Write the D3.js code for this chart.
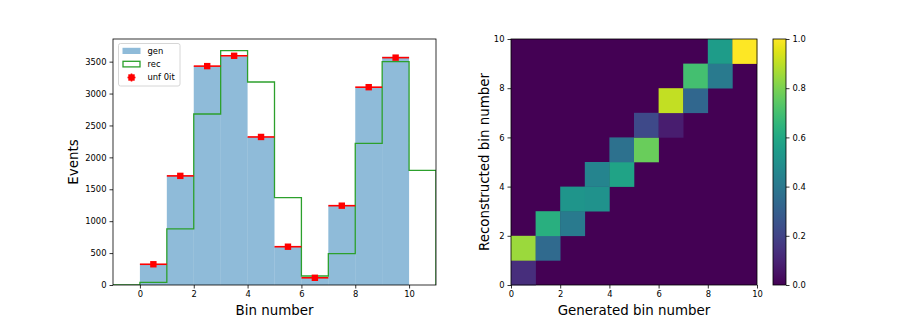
<!DOCTYPE html>
<html><head><meta charset="utf-8">
<script src="https://cdn.jsdelivr.net/npm/d3@7"></script>
<style>
body{margin:0;background:#fff;}
svg text{font-family:"DejaVu Sans",sans-serif;fill:#000;}
</style></head>
<body><svg id="c" width="913" height="326"></svg>
<script>
// ---- data ----
const binEdges = [0,1,2,3,4,5,6,7,8,9,10];
const genValues = [330, 1713, 3432, 3582, 2319, 601, 115, 1243, 3095, 3575];
const unfValues = [325, 1710, 3430, 3592, 2320, 600, 113, 1243, 3100, 3563];
const recEdges = [-1,0,1,2,3,4,5,6,7,8,9,10,11];
const recValues = [0, 42, 878, 2680, 3672, 3181, 1369, 141, 491, 2220, 3500, 1797];
const xTicksLeft = [0,2,4,6,8,10];
const yTicksLeft = [0,500,1000,1500,2000,2500,3000,3500];
const legendLabels = ["gen","rec","unf 0it"];
// response matrix cells: [generated bin, reconstructed bin, value]
const matrixCells = [
 [0,0,0.13],[0,1,0.85],
 [1,1,0.34],[1,2,0.63],
 [2,2,0.41],[2,3,0.52],
 [3,3,0.51],[3,4,0.45],
 [4,4,0.58],[4,5,0.37],
 [5,5,0.77],[5,6,0.22],
 [6,6,0.08],[6,7,0.91],
 [7,7,0.33],[7,8,0.70],
 [8,8,0.41],[8,9,0.55],
 [9,9,1.00]
];
const hmTicks = [0,2,4,6,8,10];
const cbTicks = [0,0.2,0.4,0.6,0.8,1.0];

const svg = d3.select("#c");
const tickFont = 8.4, labelFont = 13.4;

function styleAxis(g){
  g.selectAll(".domain").remove();
  g.selectAll(".tick line").attr("stroke","#000").attr("stroke-width",0.8);
  g.selectAll(".tick text").attr("font-size",tickFont).attr("font-family","DejaVu Sans");
}

// ---------- LEFT CHART ----------
const L = {x0:113, x1:436, y0:39, y1:285};
const x = d3.scaleLinear().domain([-1,11]).range([L.x0,L.x1]);
const y = d3.scaleLinear().domain([0,3855]).range([L.y1,L.y0]);
const gl = svg.append("g");
gl.append("defs").append("clipPath").attr("id","clipL").append("rect")
  .attr("x",L.x0).attr("y",L.y0).attr("width",L.x1-L.x0).attr("height",L.y1-L.y0);
const pl = gl.append("g").attr("clip-path","url(#clipL)");

// gen bars
pl.selectAll("rect.gen").data(genValues).enter().append("rect")
  .attr("x",(d,i)=>x(binEdges[i]))
  .attr("width",(d,i)=>x(binEdges[i+1])-x(binEdges[i]))
  .attr("y",d=>y(d)).attr("height",d=>y(0)-y(d))
  .attr("fill","#1f77b4").attr("fill-opacity",0.5);

// rec step
let pts = [[recEdges[0],0]];
recValues.forEach((v,i)=>{pts.push([recEdges[i],v]);pts.push([recEdges[i+1],v]);});
pts.push([recEdges[recEdges.length-1],0]);
pl.append("path").attr("d",d3.line().x(d=>x(d[0])).y(d=>y(d[1]))(pts))
  .attr("fill","none").attr("stroke","#2ca02c").attr("stroke-width",1.3);

// unf error bars + markers
unfValues.forEach((v,i)=>{
  pl.append("line").attr("x1",x(binEdges[i])).attr("x2",x(binEdges[i+1]))
    .attr("y1",y(v)).attr("y2",y(v)).attr("stroke","#ff0000").attr("stroke-width",1.6);
  pl.append("rect").attr("x",x((binEdges[i]+binEdges[i+1])/2)-3.2).attr("y",y(v)-3.2)
    .attr("width",6.4).attr("height",6.4).attr("fill","#ff0000");
});

// spines
gl.append("rect").attr("x",L.x0).attr("y",L.y0).attr("width",L.x1-L.x0).attr("height",L.y1-L.y0)
  .attr("fill","none").attr("stroke","#000").attr("stroke-width",0.8);

const axL_x = gl.append("g").attr("transform",`translate(0,${L.y1})`)
  .call(d3.axisBottom(x).tickValues(xTicksLeft).tickSize(3.5).tickPadding(3).tickFormat(d3.format("d")));
styleAxis(axL_x);
const axL_y = gl.append("g").attr("transform",`translate(${L.x0},0)`)
  .call(d3.axisLeft(y).tickValues(yTicksLeft).tickSize(3.5).tickPadding(3).tickFormat(d3.format("d")));
styleAxis(axL_y);

gl.append("text").attr("x",(L.x0+L.x1)/2).attr("y",315).attr("text-anchor","middle")
  .attr("font-size",labelFont).text("Bin number");
gl.append("text").attr("transform",`translate(78,${(L.y0+L.y1)/2}) rotate(-90)`)
  .attr("text-anchor","middle").attr("font-size",labelFont).text("Events");

// legend
const lg = gl.append("g");
lg.append("rect").attr("x",118.5).attr("y",43.5).attr("width",61.5).attr("height",42.5).attr("rx",2)
  .attr("fill","#fff").attr("fill-opacity",0.8).attr("stroke","#ccc").attr("stroke-width",0.8);
lg.append("rect").attr("x",122.5).attr("y",47.8).attr("width",18).attr("height",6.2)
  .attr("fill","#1f77b4").attr("fill-opacity",0.5);
lg.append("rect").attr("x",123).attr("y",61.3).attr("width",17).attr("height",5.6)
  .attr("fill","#fff").attr("stroke","#2ca02c").attr("stroke-width",1.3);
// unf legend symbol
lg.append("line").attr("x1",127.5).attr("x2",135.5).attr("y1",77.5).attr("y2",77.5).attr("stroke","#f00").attr("stroke-width",1.6);
lg.append("line").attr("x1",131.5).attr("x2",131.5).attr("y1",73.5).attr("y2",81.5).attr("stroke","#f00").attr("stroke-width",1.6);
lg.append("rect").attr("x",128.3).attr("y",74.3).attr("width",6.4).attr("height",6.4).attr("fill","#f00");
legendLabels.forEach((t,i)=>{
  lg.append("text").attr("x",147.5).attr("y",53.8+i*13.3).attr("font-size",tickFont).text(t);
});

// ---------- RIGHT HEATMAP ----------
const R = {x0:511, x1:757, y0:39, y1:285};
const hx = d3.scaleLinear().domain([0,10]).range([R.x0,R.x1]);
const hy = d3.scaleLinear().domain([0,10]).range([R.y1,R.y0]);
const color = d3.scaleSequential(d3.interpolateViridis).domain([0,1]);
const gr = svg.append("g");
gr.append("rect").attr("x",R.x0).attr("y",R.y0).attr("width",R.x1-R.x0).attr("height",R.y1-R.y0)
  .attr("fill",color(0));
gr.selectAll("rect.cell").data(matrixCells).enter().append("rect")
  .attr("x",d=>hx(d[0])).attr("y",d=>hy(d[1]+1))
  .attr("width",d=>hx(d[0]+1)-hx(d[0])+0.3).attr("height",d=>hy(d[1])-hy(d[1]+1)+0.3)
  .attr("fill",d=>color(d[2]));
gr.append("rect").attr("x",R.x0).attr("y",R.y0).attr("width",R.x1-R.x0).attr("height",R.y1-R.y0)
  .attr("fill","none").attr("stroke","#000").attr("stroke-width",0.8);
const axR_x = gr.append("g").attr("transform",`translate(0,${R.y1})`)
  .call(d3.axisBottom(hx).tickValues(hmTicks).tickSize(3.5).tickPadding(3).tickFormat(d3.format("d")));
styleAxis(axR_x);
const axR_y = gr.append("g").attr("transform",`translate(${R.x0},0)`)
  .call(d3.axisLeft(hy).tickValues(hmTicks).tickSize(3.5).tickPadding(3).tickFormat(d3.format("d")));
styleAxis(axR_y);
gr.append("text").attr("x",(R.x0+R.x1)/2).attr("y",315).attr("text-anchor","middle")
  .attr("font-size",labelFont).text("Generated bin number");
gr.append("text").attr("transform",`translate(489,${(R.y0+R.y1)/2}) rotate(-90)`)
  .attr("text-anchor","middle").attr("font-size",labelFont).text("Reconstructed bin number");

// ---------- COLORBAR ----------
const C = {x0:773, x1:786, y0:39, y1:285};
const cy = d3.scaleLinear().domain([0,1]).range([C.y1,C.y0]);
const grad = svg.append("defs").append("linearGradient").attr("id","vir")
  .attr("x1","0").attr("x2","0").attr("y1","1").attr("y2","0");
d3.range(0,1.0001,0.05).forEach(t=>grad.append("stop").attr("offset",t).attr("stop-color",color(t)));
const gc = svg.append("g");
gc.append("rect").attr("x",C.x0).attr("y",C.y0).attr("width",C.x1-C.x0).attr("height",C.y1-C.y0)
  .attr("fill","url(#vir)").attr("stroke","#000").attr("stroke-width",0.8);
const axC = gc.append("g").attr("transform",`translate(${C.x1},0)`)
  .call(d3.axisRight(cy).tickValues(cbTicks).tickSize(3.5).tickPadding(3).tickFormat(d3.format(".1f")));
styleAxis(axC);
</script></body></html>
